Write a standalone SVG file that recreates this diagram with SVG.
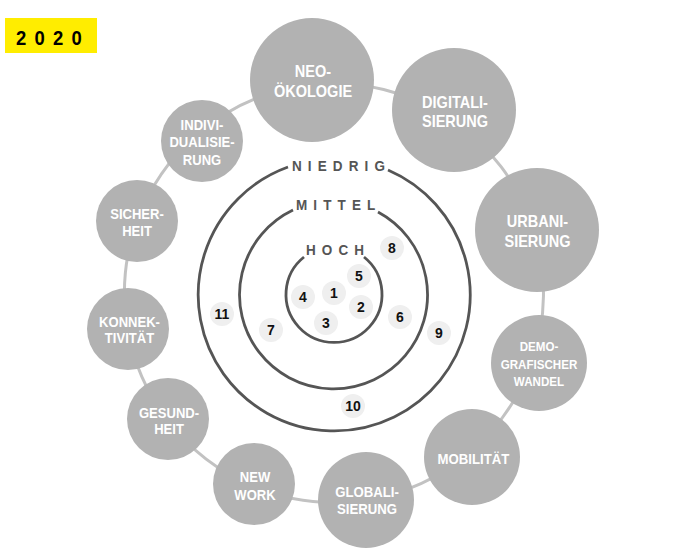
<svg xmlns="http://www.w3.org/2000/svg" width="677" height="552" viewBox="0 0 677 552">
<style>
.trend{fill:#b2b2b2}
.tl{font-family:"Liberation Sans",Arial,sans-serif;font-weight:bold;fill:#fff;text-anchor:middle}
.lg{font-size:16.5px}
.md{font-size:15px}
.sm{font-size:14.5px}
.dm{font-size:13.5px}
.link{fill:none;stroke:#c2c2c2;stroke-width:3}
.ring{fill:none;stroke:#555;stroke-width:2.8}
.rl{font-family:"Liberation Sans",Arial,sans-serif;font-weight:bold;font-size:15px;letter-spacing:6.8px;fill:#555}
.num circle{fill:#efefef}
.num text{font-family:"Liberation Sans",Arial,sans-serif;font-weight:bold;font-size:14px;fill:#111;text-anchor:middle}
</style>
<rect width="677" height="552" fill="#fff"/>
<g id="year">
<rect x="5" y="18" width="92" height="35" fill="#ffed00"/>
<text transform="translate(16 45) scale(0.9 1)" font-family="Liberation Sans,Arial,sans-serif" font-weight="bold" font-size="20.5" letter-spacing="9.2" fill="#000">2020</text>
</g>
<g id="connectors">
<path class="link" d="M312.5,84.6 A209.5,209.5 0 0 1 449,117.9"/>
<path class="link" d="M449,117.9 A209.5,209.5 0 0 1 534.1,231.1"/>
<path class="link" d="M534.1,231.1 A209.5,209.5 0 0 1 532.2,360.9"/>
<path class="link" d="M532.2,360.9 A209.5,209.5 0 0 1 468.9,453.2"/>
<path class="link" d="M468.9,453.2 A209.5,209.5 0 0 1 366.1,500"/>
<path class="link" d="M366.1,500 A209.5,209.5 0 0 1 253.2,486.3"/>
<path class="link" d="M253.2,486.3 A209.5,209.5 0 0 1 167.1,419.7"/>
<path class="link" d="M167.1,419.7 A209.5,209.5 0 0 1 127.6,329"/>
<path class="link" d="M127.6,329 A209.5,209.5 0 0 1 137.3,221"/>
<path class="link" d="M137.3,221 A209.5,209.5 0 0 1 196.5,134.9"/>
<path class="link" d="M196.5,134.9 A209.5,209.5 0 0 1 312.5,84.6"/>
</g>
<g id="neooekologie"><circle class="trend" cx="312" cy="80" r="62"/><text class="tl lg" transform="translate(313 77) scale(0.88 1)">NEO-</text><text class="tl lg" transform="translate(313 97) scale(0.88 1)">ÖKOLOGIE</text></g>
<g id="digitalisierung"><circle class="trend" cx="454" cy="110" r="62"/><text class="tl lg" transform="translate(455 107.5) scale(0.88 1)">DIGITALI-</text><text class="tl lg" transform="translate(455 127) scale(0.88 1)">SIERUNG</text></g>
<g id="urbanisierung"><circle class="trend" cx="537" cy="230" r="62"/><text class="tl lg" transform="translate(537.5 227) scale(0.88 1)">URBANI-</text><text class="tl lg" transform="translate(537.5 247) scale(0.88 1)">SIERUNG</text></g>
<g id="demografischer-wandel"><circle class="trend" cx="539" cy="363" r="48"/><text class="tl dm" transform="translate(539 351) scale(0.86 1)">DEMO-</text><text class="tl dm" transform="translate(539 368.5) scale(0.86 1)">GRAFISCHER</text><text class="tl dm" transform="translate(539 386) scale(0.86 1)">WANDEL</text></g>
<g id="mobilitaet"><circle class="trend" cx="472" cy="457" r="48"/><text class="tl md" transform="translate(473.5 464) scale(0.88 1)">MOBILITÄT</text></g>
<g id="globalisierung"><circle class="trend" cx="366" cy="500" r="48"/><text class="tl md" transform="translate(367 497) scale(0.88 1)">GLOBALI-</text><text class="tl md" transform="translate(367 514) scale(0.88 1)">SIERUNG</text></g>
<g id="new-work"><circle class="trend" cx="254" cy="484" r="41"/><text class="tl sm" transform="translate(255 482) scale(0.9 1)">NEW</text><text class="tl sm" transform="translate(255 499.5) scale(0.9 1)">WORK</text></g>
<g id="gesundheit"><circle class="trend" cx="168" cy="419" r="41"/><text class="tl sm" transform="translate(169 417.5) scale(0.9 1)">GESUND-</text><text class="tl sm" transform="translate(169 434) scale(0.9 1)">HEIT</text></g>
<g id="konnektivitaet"><circle class="trend" cx="128" cy="329" r="41"/><text class="tl sm" transform="translate(129.5 327) scale(0.9 1)">KONNEK-</text><text class="tl sm" transform="translate(129.5 343) scale(0.9 1)">TIVITÄT</text></g>
<g id="sicherheit"><circle class="trend" cx="137" cy="221" r="41"/><text class="tl sm" transform="translate(137 219) scale(0.9 1)">SICHER-</text><text class="tl sm" transform="translate(137 236) scale(0.9 1)">HEIT</text></g>
<g id="individualisierung"><circle class="trend" cx="202" cy="141" r="41"/><text class="tl sm" transform="translate(202 129.5) scale(0.9 1)">INDIVI-</text><text class="tl sm" transform="translate(202 147) scale(0.9 1)">DUALISIE-</text><text class="tl sm" transform="translate(202 164.5) scale(0.9 1)">RUNG</text></g>
<g id="ring-niedrig">
<path class="ring" d="M288,167 A136,136 0 1 0 388,170"/>
<text class="rl" transform="translate(292 171) scale(0.9 1)">NIEDRIG</text>
</g>
<g id="ring-mittel">
<path class="ring" d="M293,210 A94,94 0 1 0 378,212"/>
<text class="rl" transform="translate(296 210) scale(0.9 1)">MITTEL</text>
</g>
<g id="ring-hoch">
<path class="ring" d="M304,257 A48,48 0 1 0 364,257"/>
<text class="rl" transform="translate(306 255) scale(0.9 1)">HOCH</text>
</g>
<g class="num">
<g id="n1"><circle cx="334" cy="293" r="12"/><text x="334" y="298">1</text></g>
<g id="n2"><circle cx="361" cy="307" r="12"/><text x="361" y="312">2</text></g>
<g id="n3"><circle cx="326" cy="323" r="12"/><text x="326" y="328">3</text></g>
<g id="n4"><circle cx="303" cy="297" r="12"/><text x="303" y="302">4</text></g>
<g id="n5"><circle cx="359" cy="276" r="12"/><text x="359" y="281">5</text></g>
<g id="n6"><circle cx="400" cy="317" r="12"/><text x="400" y="322">6</text></g>
<g id="n7"><circle cx="271" cy="330" r="12"/><text x="271" y="335">7</text></g>
<g id="n8"><circle cx="392" cy="248" r="12"/><text x="392" y="253">8</text></g>
<g id="n9"><circle cx="439" cy="333" r="12"/><text x="439" y="338">9</text></g>
<g id="n10"><circle cx="353" cy="406" r="12"/><text x="353" y="411">10</text></g>
<g id="n11"><circle cx="222" cy="314" r="12"/><text x="222" y="319">11</text></g>
</g>
</svg>
